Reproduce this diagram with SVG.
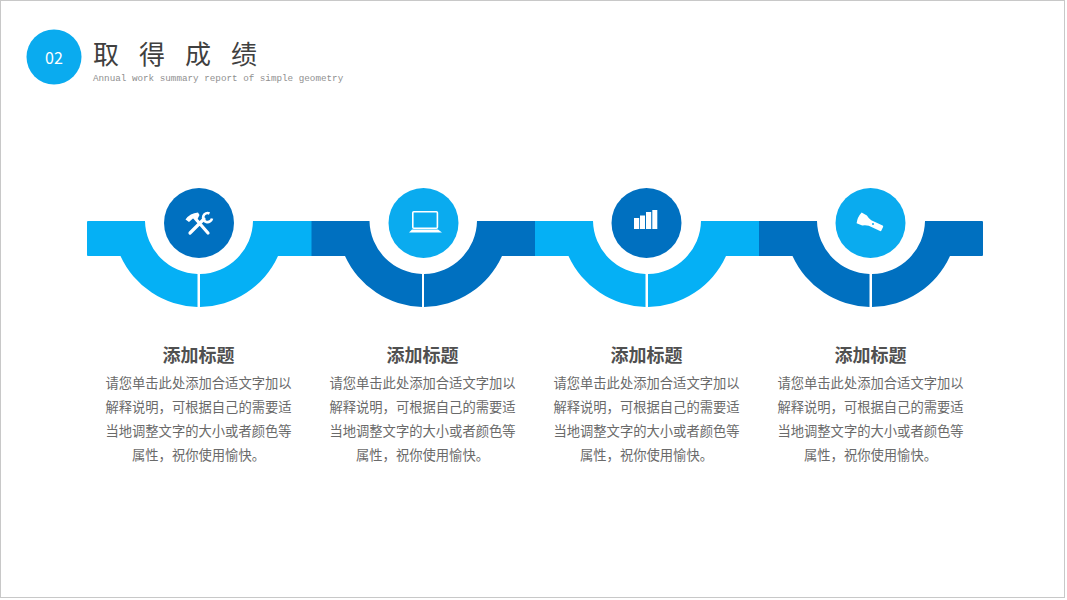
<svg xmlns="http://www.w3.org/2000/svg" width="1067" height="600" viewBox="0 0 1067 600">
<style>
.l{fill:#05b0f5}.d{fill:#0070c0}.ic{fill:#0aabef}
.w{fill:#fff}.ws{fill:none;stroke:#fff}
text{font-family:"Noto Sans CJK SC","Noto Sans",sans-serif}
.h{font-size:18px;font-weight:700;fill:#505050;text-anchor:middle}
.b{font-size:13.3px;fill:#6a6a6a;text-anchor:middle}
</style>
<defs>
<path id="lh" d="M0 0H58A54 54 0 0 0 110.500 53V86A87 87 0 0 1 33.500 35H0Z"/>
<path id="rh" d="M0 53A54 54 0 0 0 53 0H112V35H78A87 87 0 0 1 0 86Z"/>
</defs>
<rect width="1067" height="600" fill="#fff"/>
<rect x="0.500" y="0.500" width="1064" height="597" fill="none" stroke="#c8c8c8"/>
<g id="header">
<circle cx="54" cy="57" r="27.500" fill="#0aabef"/>
<text x="54" y="64" font-size="16" fill="#fff" text-anchor="middle">02</text>
<text x="93" y="64" font-size="26" fill="#404040" letter-spacing="20">取得成绩</text>
<text x="93" y="81" font-size="9.270" fill="#8f8f8f" style="font-family:'Liberation Mono',monospace">Annual work summary report of simple geometry</text>
</g>
<g id="node-1">
<path class="l" d="M88 221H145A54 54 0 0 0 197.500 274V307A87 87 0 0 1 120.500 256H88Q87 256 87 255V222Q87 221 88 221Z"/>
<use href="#rh" x="200" y="221" class="l"/>
<circle cx="199" cy="223" r="35" class="d"/>
<path class="ws" stroke-width="3.200" stroke-linecap="round" d="M208 233L194 217M190 233L204 219"/>
<path class="w" d="M185.500 219.500Q190 213 198 212.500L199.500 215L197 220L193.500 218L189 222Z"/>
<path class="ws" stroke-width="2.600" d="M209.500 213.500A4.500 4.500 0 1 0 212 218.500"/>
<text x="198.500" y="362" class="h">添加标题</text>
<text x="198.500" y="388" class="b">请您单击此处添加合适文字加以</text>
<text x="198.500" y="412" class="b">解释说明，可根据自己的需要适</text>
<text x="198.500" y="436" class="b">当地调整文字的大小或者颜色等</text>
<text x="198.500" y="460" class="b">属性，祝你使用愉快。</text>
</g>
<g id="node-2">
<use href="#lh" x="311.500" y="221" class="d"/><use href="#rh" x="424" y="221" class="d"/>
<circle cx="423.500" cy="223" r="35" class="ic"/>
<rect x="412.800" y="211.800" width="24.600" height="16.400" rx="1" class="ws" stroke-width="1.600"/>
<path class="w" d="M412 229.500H438L442 232.500H409Z"/>
<text x="422.500" y="362" class="h">添加标题</text>
<text x="422.500" y="388" class="b">请您单击此处添加合适文字加以</text>
<text x="422.500" y="412" class="b">解释说明，可根据自己的需要适</text>
<text x="422.500" y="436" class="b">当地调整文字的大小或者颜色等</text>
<text x="422.500" y="460" class="b">属性，祝你使用愉快。</text>
</g>
<g id="node-3">
<use href="#lh" x="535" y="221" class="l"/><use href="#rh" x="648" y="221" class="l"/>
<circle cx="646.500" cy="223" r="35" class="d"/>
<rect x="634" y="218" width="5.200" height="11" class="w"/>
<rect x="640" y="215.500" width="5" height="13.500" class="w"/>
<rect x="646" y="212" width="5.200" height="17" class="w"/>
<rect x="652.300" y="210" width="5" height="19" class="w"/>
<text x="646.500" y="362" class="h">添加标题</text>
<text x="646.500" y="388" class="b">请您单击此处添加合适文字加以</text>
<text x="646.500" y="412" class="b">解释说明，可根据自己的需要适</text>
<text x="646.500" y="436" class="b">当地调整文字的大小或者颜色等</text>
<text x="646.500" y="460" class="b">属性，祝你使用愉快。</text>
</g>
<g id="node-4">
<use href="#lh" x="759" y="221" class="d"/>
<path class="d" d="M872 274A54 54 0 0 0 925 221H982Q983 221 983 222V255Q983 256 982 256H950A87 87 0 0 1 872 307Z"/>
<circle cx="870.500" cy="223" r="35" class="ic"/>
<path class="w" transform="translate(870 223) rotate(25)" d="M-12 -6Q-14 0 -12 6L-6 5.500Q-3 3.500 0 3H12.500Q13.500 3 13.500 2V-2Q13.500 -3 12.500 -3H0Q-3 -3.500 -6 -5.500Z"/>
<circle cx="873" cy="224" r="1" class="ic"/>
<text x="870.500" y="362" class="h">添加标题</text>
<text x="870.500" y="388" class="b">请您单击此处添加合适文字加以</text>
<text x="870.500" y="412" class="b">解释说明，可根据自己的需要适</text>
<text x="870.500" y="436" class="b">当地调整文字的大小或者颜色等</text>
<text x="870.500" y="460" class="b">属性，祝你使用愉快。</text>
</g>
</svg>
